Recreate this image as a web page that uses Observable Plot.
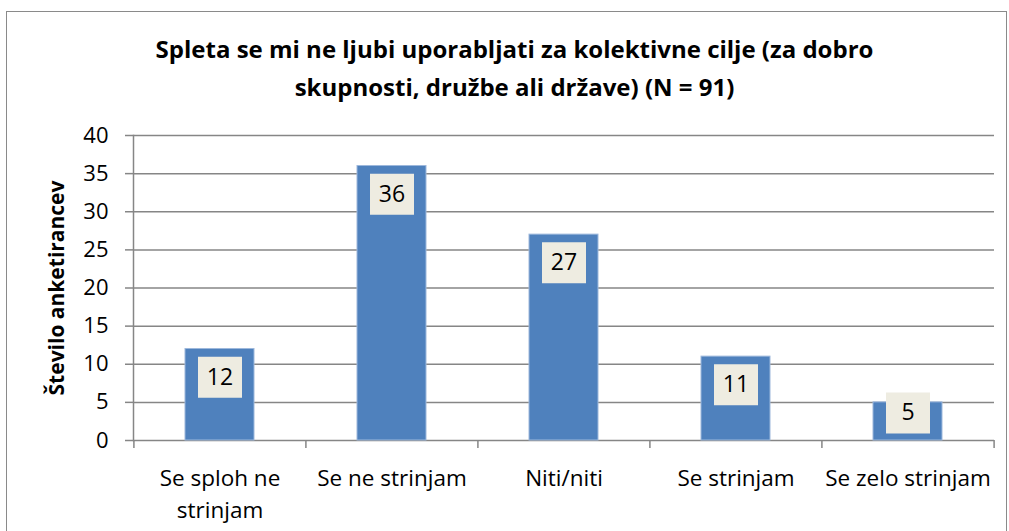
<!DOCTYPE html>
<html><head><meta charset="utf-8">
<script src="https://cdn.jsdelivr.net/npm/d3@7"></script>
<script src="https://cdn.jsdelivr.net/npm/@observablehq/plot@0.6"></script>
<style>
body{margin:0;background:#fff;font-family:"Open Sans",Lato,sans-serif;}
#frame{position:absolute;left:6px;top:11px;width:1001px;height:540px;border:1.5px solid #8a8a8a;box-sizing:border-box;}
#title{position:absolute;left:0;width:1029px;top:30px;text-align:center;font-weight:bold;font-size:24px;line-height:38px;color:#000;}
#chart{position:absolute;left:0;top:100px;}
</style>
</head><body>
<div id="frame"></div>
<div id="title">Spleta se mi ne ljubi uporabljati za kolektivne cilje (za dobro<br>skupnosti, družbe ali države) (N = 91)</div>
<div id="chart"></div>
<script>
const categories = ["Se sploh ne strinjam", "Se ne strinjam", "Niti/niti", "Se strinjam", "Se zelo strinjam"];
const counts = [12, 36, 27, 11, 5];
const tickLabels = ["Se sploh ne\nstrinjam", "Se ne strinjam", "Niti/niti", "Se strinjam", "Se zelo strinjam"];
const yTicks = [0, 5, 10, 15, 20, 25, 30, 35, 40];
const yTitle = "Število anketirancev";

const data = categories.map((c, i) => ({cat: c, value: counts[i], label: tickLabels[i]}));
const labelMap = new Map(data.map(d => [d.cat, d.label]));
// label position like Excel "inside end"
const labelY = d => d.value >= 10 ? d.value - 3.7 : d.value - 1.4;
const boxSymbol = {draw(ctx) { ctx.rect(-22, -20.5, 44, 41); }};

const W = 1009, H = 431;
const mL = 133, mR = 15, mT = 35, mB = 91;
const step = (W - mL - mR) / categories.length;
const pxPerUnit = (H - mT - mB) / 40;
const gray = "#868686";
const font = "'Open Sans', Lato, sans-serif";

const chart = Plot.plot({
  width: W, height: H,
  marginLeft: mL, marginRight: mR, marginTop: mT, marginBottom: mB,
  style: {fontFamily: font, fontSize: "22px", color: "#000", background: "transparent"},
  x: {domain: categories, paddingInner: 0.6, paddingOuter: 0.3, axis: null},
  y: {domain: [0, 40], axis: null},
  marks: [
    Plot.gridY(yTicks, {stroke: gray, strokeOpacity: 1, strokeWidth: 1.5}),
    Plot.axisY(yTicks, {tickSize: 8, tickPadding: 17, stroke: gray, strokeWidth: 1.5, fill: "#000", fontSize: 22, label: null}),
    Plot.frame({anchor: "left", stroke: gray, strokeWidth: 1.5}),
    Plot.ruleX(categories, {x: d => d, dx: -step / 2, y1: 0, y2: -8 / pxPerUnit, stroke: gray, strokeWidth: 1.5}),
    Plot.ruleX([categories[categories.length - 1]], {x: d => d, dx: step / 2, y1: 0, y2: -8 / pxPerUnit, stroke: gray, strokeWidth: 1.5}),
    Plot.axisX(categories, {tickSize: 0, tickPadding: 22, tickFormat: d => labelMap.get(d), lineHeight: 1.45, fill: "#000", fontSize: 22.5, label: null}),
    Plot.barY(data, {x: "cat", y: "value", fill: "#4F81BD", stroke: "#9db8dc", strokeWidth: 1}),
    Plot.dot(data, {x: "cat", y: labelY, symbol: boxSymbol, fill: "#EEECE1", stroke: "none"}),
    Plot.text(data, {x: "cat", y: labelY, text: d => String(d.value), fontSize: 23, fill: "#000", lineAnchor: "middle"}),
    Plot.text([yTitle], {frameAnchor: "left", textAnchor: "middle", rotate: -90, dx: -76, fontWeight: "bold", fontSize: 21, fill: "#000", lineAnchor: "middle"})
  ]
});
document.getElementById("chart").appendChild(chart);
</script>
</body></html>
